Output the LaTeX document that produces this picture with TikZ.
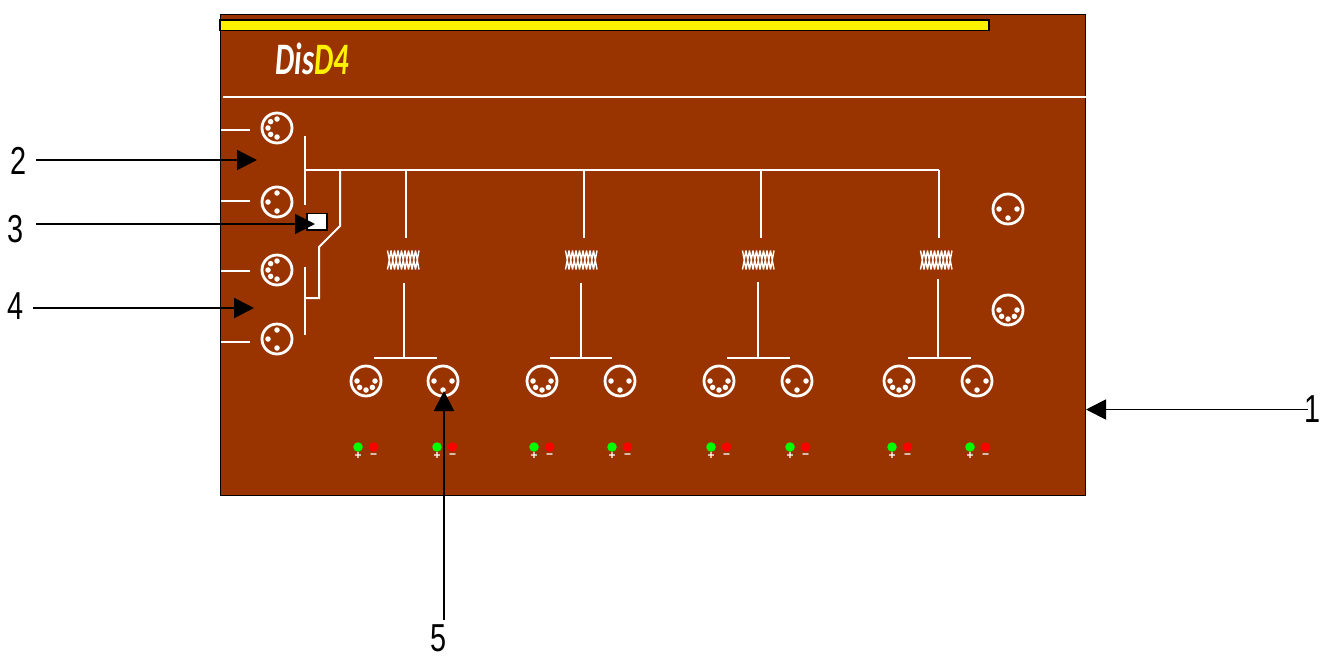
\documentclass[tikz,border=0pt]{standalone}
\usepackage{fontspec}
\setmainfont{Liberation Sans}
\newfontfamily\logofont{Carlito}
\usetikzlibrary{arrows.meta}
\definecolor{boardbrown}{RGB}{153,51,0}
\tikzset{
  wire/.style={draw=white, line width=2pt},
  pointer/.style={draw=black, line width=1.9pt, -{Triangle[length=20pt,width=20pt]}},
  callout/.style={inner sep=0pt, font=\fontsize{39}{39}\selectfont, xscale=0.74},
  socket/.style={circle, draw=white, line width=2.8pt, minimum size=30pt, inner sep=0pt},
  pin/.style={circle, fill=white, inner sep=0pt, minimum size=5.5pt},
  led/.style={circle, inner sep=0pt, minimum size=9.5pt},
  polarity/.style={text=white, inner sep=0pt, font=\fontsize{12}{12}\selectfont\bfseries},
  pics/threepin/.style={code={
      \foreach \a in {0,90,180} \node[pin] at (\a+#1:9pt) {};
    }},
  pics/fivepin/.style={code={
      \foreach \a in {0,45,90,135,180} \node[pin] at (\a+#1:9pt) {};
    }},
}
\begin{document}
\begin{tikzpicture}[x=1pt, y=-1pt]
  \useasboundingbox (0,0) rectangle (1321,659);
  \node[draw=black, line width=1.9pt, fill=boardbrown, minimum width=865pt, minimum height=481pt, inner sep=0pt]
  (board) at (653,255) {};
  \node[draw=black, line width=1.9pt, fill=yellow, minimum width=769pt, minimum height=10.5pt, inner sep=0pt]
  (bar) at (604.5,25.2) {};
  \node[inner sep=0pt, anchor=west, xscale=0.675, font=\fontsize{45}{45}\logofont\bfseries\itshape, text=white]
  (logo) at (275.5,59) {Dis\textcolor{yellow}{D4}};
  \draw[wire] (223,96.5) -- (1086,96.5);

  % left sockets
  \foreach \name/\py/\kind/\rot/\sy in {inA/128/fivepin/90/130, inB/202/threepin/90/201, inC/270/fivepin/90/271, inD/339/threepin/90/342}{
    \node[socket] (\name) at (277,\py) {};
    \pic at (\name) {\kind=\rot};
    \draw[wire] (221,\sy) -- (250,\sy);
  }
  \draw[wire] (304.5,136) -- (304.5,205);
  \draw[wire] (304.5,267) -- (304.5,335);
  \coordinate (busL) at (304.5,169.5);
  \coordinate (busR) at (939,169.5);
  \draw[wire] (busL) -- (busR);
  \draw[wire] (340,169.5) -- (340,226) -- (319,247) -- (319,298) -- (304.5,298);
  \node[draw=black, line width=1.9pt, fill=white, minimum width=20pt, minimum height=16.5pt, inner sep=0pt] (switch) at (316.7,221.7) {};

  % right sockets
  \node[socket] (thruA) at (1008,209) {};
  \pic at (thruA) {threepin=180};
  \node[socket] (thruB) at (1008,310) {};
  \pic at (thruB) {fivepin=180};

  % output stages
  \foreach \n/\tx/\cx/\bx/\bl/\br/\sa/\sb/\ty in {1/406/403/404/374/437/366/443/283, 2/584/581/581/550/612/542/620/283, 3/761/758/758/727/790/719/797/282, 4/939/936/938/908/971/899/977/279}{
    \coordinate (drop\n) at (\tx,169.5);
    \coordinate (coilin\n) at (\tx,238);
    \draw[wire] (drop\n) -- (coilin\n);
    \draw[draw=white, line width=1.4pt]
    \foreach \k in {0,...,8}{
      (\cx-15.5+\k*3.5,250.5) -- (\cx-15.5+\k*3.5+3.5,269.5)
      (\cx-15.5+\k*3.5+3.5,250.5) -- (\cx-15.5+\k*3.5,269.5)
    };
    \coordinate (tap\n) at (\bx,\ty);
    \coordinate (tee\n) at (\bx,358);
    \draw[wire, line width=2.4pt] (tap\n) -- (tee\n);
    \draw[wire, line width=2.4pt] (\bl,358) -- (\br,358);
    \node[socket] (out\n a) at (\sa,381) {};
    \pic at (out\n a) {fivepin=180};
    \node[socket] (out\n b) at (\sb,381) {};
    \pic at (out\n b) {threepin=180};
  }

  % leds
  \foreach \n/\gx in {a/358, b/437, c/534, d/612, e/711, f/790, g/892, h/970}{
    \node[led, fill=green] (plus\n) at (\gx,447) {};
    \node[led, fill=red] (minus\n) at (\gx+15.5,447) {};
    \node[polarity] (plustxt\n) at (\gx,456) {+};
    \node[polarity] (minustxt\n) at (\gx+15.5,456) {−};
  }

  % callouts
  \node[callout] (lab1) at (1313,409) {1};
  \node[callout] (lab2) at (18.5,160.5) {2};
  \node[callout] (lab3) at (16,229.5) {3};
  \node[callout] (lab4) at (16,306.5) {4};
  \node[callout] (lab5) at (439,638) {5};
  \coordinate (tip1) at (1086,409.5);
  \coordinate (tip2) at (257,160);
  \coordinate (tip3) at (315,224);
  \coordinate (tip4) at (254,308);
  \coordinate (tip5) at (444,391);
  \draw[pointer] (1308,409.5) -- (tip1);
  \draw[pointer] (36,160) -- (tip2);
  \draw[pointer] (36,224) -- (tip3);
  \draw[pointer] (33,308) -- (tip4);
  \draw[pointer] (444,620) -- (tip5);
\end{tikzpicture}
\end{document}
